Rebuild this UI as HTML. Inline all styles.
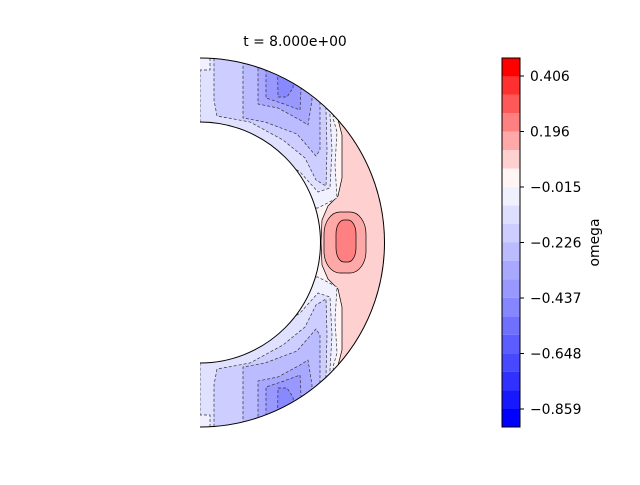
<!DOCTYPE html>
<html><head><meta charset="utf-8"><style>
html,body{margin:0;padding:0;background:#fff;}
svg text{font-family:"DejaVu Sans","Liberation Sans",sans-serif;font-size:13.9px;fill:#000;}
</style></head><body>
<svg width="640" height="480" viewBox="0 0 640 480" xmlns="http://www.w3.org/2000/svg">
<defs>
<clipPath id="ann"><path d="M200,58 A184.5,184.5 0 0 1 200,427 L200,363 A120.5,120.5 0 0 0 200,122 Z"/></clipPath>
<g id="half" stroke="#333" stroke-width="0.7" stroke-dasharray="3,2" stroke-linejoin="round">
  <path d="M200,30 L345,30 L333,118 L337,132 L335,165 L337,198 L318,208 L200,208 Z" fill="#f0f0ff"/>
  <path d="M200,30 L326,30 L330,115 L332,150 L330,188 L318,192 L300,172 L262,146 L225,130 L200,127 Z" fill="#e0e0ff"/>
  <path d="M214,30 L322,30 L326,110 L327,150 L326,186 L316,180 L305,158 L283,140 L250,122 L217,116 L214,100 Z" fill="#cdcdff"/>
  <path d="M243,30 L316,30 L320,100 L320,150 L316,156 L297,134 L265,122 L243,118 Z" fill="#bbbbff"/>
  <path d="M258,30 L310,30 L312,100 L308,125 L300,120 L278,108 L258,104 Z" fill="#a8a8ff"/>
  <path d="M266,30 L304,30 L300,110 L284,104 L266,98 Z" fill="#9898ff"/>
  <path d="M277,30 L297,30 L293,88 L287,97 L278,97 Z" fill="#8888ff"/>
  <path d="M200,58 L210,58 L210,70 L200,70" fill="#f0f0ff"/>
</g>
</defs>
<g clip-path="url(#ann)">
  <rect x="200" y="50" width="200" height="390" fill="#fff5f5"/>
  <path d="M336,112 L342,135 L342,178 L338,196 L328,206 L322,220 L321,242 L322,265 L328,279 L338,289 L342,307 L342,350 L336,373 L400,400 L400,90 Z" fill="#ffd0d0" stroke="#000" stroke-width="0.7"/>
  <use href="#half"/>
  <use href="#half" transform="translate(0,485) scale(1,-1)"/>
  <rect x="324" y="212" width="42" height="61" rx="16" ry="22" fill="#ffa8a8" stroke="#000" stroke-width="0.7"/>
  <rect x="336" y="220" width="20" height="42" rx="8" ry="14" fill="#ff8080" stroke="#000" stroke-width="0.7"/>
</g>
<path d="M200,58 A184.5,184.5 0 0 1 200,427 M200,363 A120.5,120.5 0 0 0 200,122" fill="none" stroke="#000" stroke-width="1"/>
<text x="295" y="46" text-anchor="middle">t = 8.000e+00</text>
<g>
  <rect x="502" y="58" width="18" height="18.45" fill="#ff0000"/>
  <rect x="502" y="76.45" width="18" height="18.45" fill="#ff3030"/>
  <rect x="502" y="94.9" width="18" height="18.45" fill="#ff5858"/>
  <rect x="502" y="113.35" width="18" height="18.45" fill="#ff8080"/>
  <rect x="502" y="131.8" width="18" height="18.45" fill="#ffa8a8"/>
  <rect x="502" y="150.25" width="18" height="18.45" fill="#ffd0d0"/>
  <rect x="502" y="168.7" width="18" height="18.45" fill="#fff5f5"/>
  <rect x="502" y="187.15" width="18" height="18.45" fill="#f0f0ff"/>
  <rect x="502" y="205.6" width="18" height="18.45" fill="#dedeff"/>
  <rect x="502" y="224.05" width="18" height="18.45" fill="#cdcdff"/>
  <rect x="502" y="242.5" width="18" height="18.45" fill="#bbbbff"/>
  <rect x="502" y="260.95" width="18" height="18.45" fill="#a8a8ff"/>
  <rect x="502" y="279.4" width="18" height="18.45" fill="#9898ff"/>
  <rect x="502" y="297.85" width="18" height="18.45" fill="#8686ff"/>
  <rect x="502" y="316.3" width="18" height="18.45" fill="#7070ff"/>
  <rect x="502" y="334.75" width="18" height="18.45" fill="#5c5cff"/>
  <rect x="502" y="353.2" width="18" height="18.45" fill="#4848ff"/>
  <rect x="502" y="371.65" width="18" height="18.45" fill="#3030ff"/>
  <rect x="502" y="390.1" width="18" height="18.45" fill="#1818ff"/>
  <rect x="502" y="408.55" width="18" height="18.45" fill="#0000ff"/>
  <rect x="502" y="58" width="18" height="369" fill="none" stroke="#000" stroke-width="1"/>
</g>
<g stroke="#000" stroke-width="1">
  <line x1="520" y1="76" x2="524" y2="76"/>
  <line x1="520" y1="131.5" x2="524" y2="131.5"/>
  <line x1="520" y1="187" x2="524" y2="187"/>
  <line x1="520" y1="242.5" x2="524" y2="242.5"/>
  <line x1="520" y1="298" x2="524" y2="298"/>
  <line x1="520" y1="353.5" x2="524" y2="353.5"/>
  <line x1="520" y1="409" x2="524" y2="409"/>
</g>
<text x="530" y="81">0.406</text>
<text x="530" y="136.5">0.196</text>
<text x="530" y="192">−0.015</text>
<text x="530" y="247.5">−0.226</text>
<text x="530" y="303">−0.437</text>
<text x="530" y="358.5">−0.648</text>
<text x="530" y="414">−0.859</text>
<text transform="translate(599,242.5) rotate(-90)" text-anchor="middle">omega</text>
</svg>
</body></html>
